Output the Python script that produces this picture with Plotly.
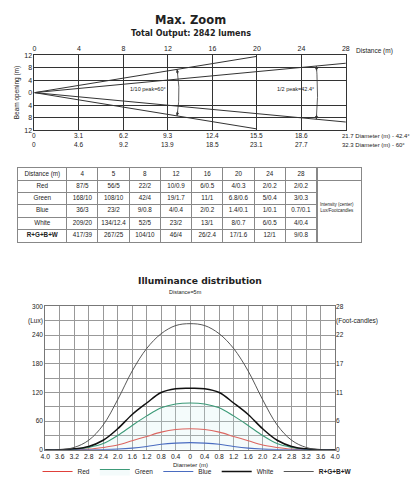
import numpy as np
import plotly.graph_objects as go

W, H = 419, 478
FONT = "Liberation Sans"
TITLE_FONT = "DejaVu Sans"


def fx(p):
    return p / W


def fy(p):
    return 1 - p / H


# ---- beam diagram data ----
dist_ticks = [0, 4, 8, 12, 16, 20, 24, 28]
diam_424 = ["0", "3.1", "6.2", "9.3", "12.4", "15.5", "18.6", "21.7"]
diam_60 = ["0", "4.6", "9.2", "13.9", "18.5", "23.1", "27.7", "32.3"]
beam60_dist = [0, 20]
beam60_half = [0, 11.6]
beam42_dist = [0, 28]
beam42_half = [0, 9.4]

# ---- photometric table data ----
table_dist = ["4", "5", "8", "12", "16", "20", "24", "28"]
row_names = ["Red", "Green", "Blue", "White", "<b>R+G+B+W</b>"]
red_tab = ["87/5", "56/5", "22/2", "10/0.9", "6/0.5", "4/0.3", "2/0.2", "2/0.2"]
green_tab = ["168/10", "108/10", "42/4", "19/1.7", "11/1", "6.8/0.6", "5/0.4", "3/0.3"]
blue_tab = ["36/3", "23/2", "9/0.8", "4/0.4", "2/0.2", "1.4/0.1", "1/0.1", "0.7/0.1"]
white_tab = ["209/20", "134/12.4", "52/5", "23/2", "13/1", "8/0.7", "6/0.5", "4/0.4"]
rgbw_tab = ["417/39", "267/25", "104/10", "46/4", "26/2.4", "17/1.6", "12/1", "9/0.8"]

# ---- illuminance distribution at 5 m ----
diam_x = [-4.0, -3.6, -3.2, -2.8, -2.4, -2.0, -1.6, -1.2, -0.8, -0.4, 0,
          0.4, 0.8, 1.2, 1.6, 2.0, 2.4, 2.8, 3.2, 3.6, 4.0]
lux_red = [0, 0, 0.5, 1.5, 5, 10, 19, 28, 37, 42.5, 44,
           42.5, 37, 28, 19, 10, 5, 1.5, 0.5, 0, 0]
lux_green = [0, 0, 1, 5, 13, 30, 51, 71, 88, 96, 98,
             96, 88, 71, 51, 30, 13, 5, 1, 0, 0]
lux_blue = [0, 0, 0, 0, 0.5, 1.5, 3.5, 7, 11.5, 14, 15,
            14, 11.5, 7, 3.5, 1.5, 0.5, 0, 0, 0, 0]
lux_white = [0, 0, 2, 7, 20, 44, 74, 98, 120, 128, 129,
             128, 120, 98, 74, 44, 20, 7, 2, 0, 0]
lux_rgbw = [0, 0, 5, 20, 52, 105, 165, 212, 243, 260, 264,
            260, 243, 212, 165, 105, 52, 20, 5, 0, 0]
lux_ticks = [0, 30, 60, 90, 120, 150, 180, 210, 240, 270, 300]
lux_text = ["0", "", "60", "", "120", "", "180", "", "240", "(Lux)", "300"]
fc_text = ["0", "", "6", "", "11", "", "17", "", "22", "(Foot-candles)", "28"]

fig = go.Figure()

# beam lines
for d, h in [(beam60_dist, beam60_half), (beam42_dist, beam42_half)]:
    for sgn in (1, -1):
        fig.add_trace(go.Scatter(x=d, y=[sgn * v for v in h], mode="lines",
                                 line=dict(color="#333", width=1),
                                 showlegend=False, hoverinfo="skip",
                                 xaxis="x", yaxis="y"))

# angle arcs (drawn round the origin in screen space)
sx = (341 - 22) / 28.0
sy = (122 - 44.5) / 24.0
arrows = []
for d, h, rad in [(beam60_dist, beam60_half, 148), (beam42_dist, beam42_half, 290)]:
    th = np.arctan2(h[1] * sy, d[1] * sx)
    t = np.linspace(-th, th, 40)
    fig.add_trace(go.Scatter(x=rad * np.cos(t) / sx, y=rad * np.sin(t) / sy, mode="lines",
                             line=dict(color="#333", width=0.8),
                             showlegend=False, hoverinfo="skip",
                             xaxis="x", yaxis="y"))
    for sgn in (1, -1):
        arrows.append(dict(x=rad * np.cos(th) / sx, y=sgn * rad * np.sin(th) / sy,
                           xref="x", yref="y", text="",
                           showarrow=True, arrowhead=2, arrowsize=0.8,
                           arrowwidth=0.8, arrowcolor="#333",
                           ax=6 * np.sin(th), ay=sgn * 6 * np.cos(th)))

# table drawn on its own grid: columns in px-width units, rows 0..5
col_w = [50] + [32] * 8
col_edges = list(np.cumsum([0] + col_w))
col_mid = [(a + b) / 2 for a, b in zip(col_edges[:-1], col_edges[1:])]
columns = [["Distance (m)"] + row_names] + [
    [hd] + list(vals) for hd, vals in
    zip(table_dist, zip(red_tab, green_tab, blue_tab, white_tab, rgbw_tab))]
cx, cy, ct = [], [], []
for ci, col in enumerate(columns):
    for ri, txt in enumerate(col):
        cx.append(col_mid[ci])
        cy.append(ri + 0.5)
        ct.append(txt)
fig.add_trace(go.Scatter(x=cx, y=cy, text=ct, mode="text", showlegend=False,
                         hoverinfo="skip", textfont=dict(family=FONT, size=6.3, color="#222"),
                         xaxis="x4", yaxis="y4"))

# illuminance curves
series = [("Red", lux_red, "#e0403a", 1.1), ("Green", lux_green, "#3c9a78", 1.1),
          ("Blue", lux_blue, "#4a6cc0", 1.1), ("White", lux_white, "#111", 1.5),
          ("<b>R+G+B+W</b>", lux_rgbw, "#444", 0.9)]
for name, vals, col, wd in series:
    fig.add_trace(go.Scatter(x=diam_x, y=vals, name=name, mode="lines",
                             line=dict(color=col, width=wd, shape="spline"),
                             fill="tozeroy" if name == "Green" else None,
                             fillcolor="rgba(205,238,238,0.22)",
                             xaxis="x2", yaxis="y2"))
fig.add_trace(go.Scatter(x=[diam_x[0]], y=[0], mode="markers", marker=dict(opacity=0),
                         showlegend=False, hoverinfo="skip", xaxis="x2", yaxis="y3"))
fig.add_trace(go.Scatter(x=[0], y=[0], mode="markers", marker=dict(opacity=0),
                         showlegend=False, hoverinfo="skip", xaxis="x5", yaxis="y5"))

ann = [
    dict(text="<b>Max. Zoom</b>", x=fx(182), y=fy(8), font=dict(size=11.5, family=TITLE_FONT)),
    dict(text="<b>Total Output: 2842 lumens</b>", x=fx(182), y=fy(22),
         font=dict(size=8, family=TITLE_FONT)),
    dict(text="Distance (m)", x=fx(349), y=fy(40), xanchor="left", font=dict(size=6.5)),
    dict(text="Beam opening (m)", x=fx(5), y=fy(83), textangle=-90, font=dict(size=6.5)),
    dict(text="1/10 peak=60°", x=10.2, y=1.2, xref="x", yref="y", font=dict(size=5.5)),
    dict(text="1/2 peak=42.4°", x=23.5, y=1.2, xref="x", yref="y", font=dict(size=5.5)),
    dict(text="Intensity (center)<br>Lux/Footcandles", x=0.04, y=3.2, xref="x5", yref="y5",
         xanchor="left", font=dict(size=4.5)),
    dict(text="<b>Illuminance distribution</b>", x=fx(192), y=fy(277),
         font=dict(size=9.2, family=TITLE_FONT)),
    dict(text="Distance=5m", x=fx(177), y=fy(289), font=dict(size=5.5)),
    dict(text="Diameter (m)", x=fx(182), y=fy(467.8), font=dict(size=6)),
]
for i, d in enumerate(dist_ticks):
    last = i == len(dist_ticks) - 1
    for txt, suffix, ypx in [(diam_424[i], " Diameter (m) - 42.4°", 128),
                             (diam_60[i], " Diameter (m) - 60°", 137)]:
        ann.append(dict(text=txt + (suffix if last else ""),
                        x=d, y=fy(ypx), xref="x", yref="paper",
                        xanchor="left" if last else "center", xshift=-6 if last else 0,
                        font=dict(size=6 if last else 6.5)))
for a in ann:
    a.setdefault("xref", "paper")
    a.setdefault("yref", "paper")
    a.setdefault("showarrow", False)
    a.setdefault("xanchor", "center")
    a.setdefault("yanchor", "middle")
    f = dict(family=FONT, color="#222")
    f.update(a["font"])
    a["font"] = f

grid_tab = dict(showgrid=True, gridcolor="#888", gridwidth=1, zeroline=False,
                showline=True, linecolor="#888", mirror=True, ticks="",
                showticklabels=False, fixedrange=True)

fig.update_layout(
    width=W, height=H, margin=dict(l=0, r=0, t=0, b=0),
    paper_bgcolor="white", plot_bgcolor="white",
    font=dict(family=FONT, size=6.5, color="#222"),
    annotations=ann + arrows,
    xaxis=dict(domain=[fx(22), fx(341)], range=[0, 28], side="top",
               tickvals=dist_ticks, showgrid=True, gridcolor="#333", gridwidth=1,
               showline=True, linecolor="#333", mirror=True, ticks="",
               zeroline=False, tickfont=dict(size=7)),
    yaxis=dict(domain=[fy(122), fy(44.5)], range=[-12, 12],
               tickvals=[-12, -8, -4, 0, 4, 8, 12],
               ticktext=["12", "8", "4", "0", "4", "8", "12"],
               showgrid=False, zeroline=False, showline=True, linecolor="#333",
               mirror=True, ticks="", tickfont=dict(size=7),
               minor=dict(tickmode="array", tickvals=[-8, -4, 4, 8], showgrid=True,
                          gridcolor="#333", gridwidth=1)),
    xaxis4=dict(domain=[fx(5), fx(311)], range=[0, col_edges[-1]], anchor="y4",
                tickvals=col_edges, **grid_tab),
    yaxis4=dict(domain=[fy(237), fy(161)], range=[6, 0], anchor="x4",
                tickvals=list(range(7)), **grid_tab),
    xaxis5=dict(domain=[fx(311), fx(356)], range=[0, 1], anchor="y5",
                tickvals=[], **grid_tab),
    yaxis5=dict(domain=[fy(237), fy(161)], range=[6, 0], anchor="x5",
                tickvals=[1], **grid_tab),
    xaxis2=dict(domain=[fx(33), fx(330)], range=[-4, 4], anchor="y2",
                tickvals=diam_x, ticktext=[f"{abs(v):.1f}" if v else "0" for v in diam_x],
                showgrid=True, gridcolor="#999", gridwidth=1, zeroline=False,
                showline=True, linecolor="#777", mirror=True, ticks="",
                tickfont=dict(size=6.8), tickangle=0, ticklabelstandoff=0),
    yaxis2=dict(domain=[fy(452), fy(304)], range=[0, 300], anchor="x2",
                tickvals=lux_ticks, ticktext=lux_text, showgrid=True,
                gridcolor="#999", gridwidth=1, zeroline=False, showline=True,
                linecolor="#777", mirror=True, ticks="", tickfont=dict(size=6.5)),
    yaxis3=dict(overlaying="y2", side="right", anchor="x2", range=[0, 300],
                tickvals=lux_ticks, ticktext=fc_text, showgrid=False,
                zeroline=False, ticks="", tickfont=dict(size=6.5)),
    legend=dict(orientation="h", x=0.45, xanchor="center", y=fy(474.5), yanchor="middle",
                font=dict(size=6.5), itemwidth=30, tracegroupgap=0,
                bgcolor="rgba(0,0,0,0)"),
)

fig.write_html("out.html")
